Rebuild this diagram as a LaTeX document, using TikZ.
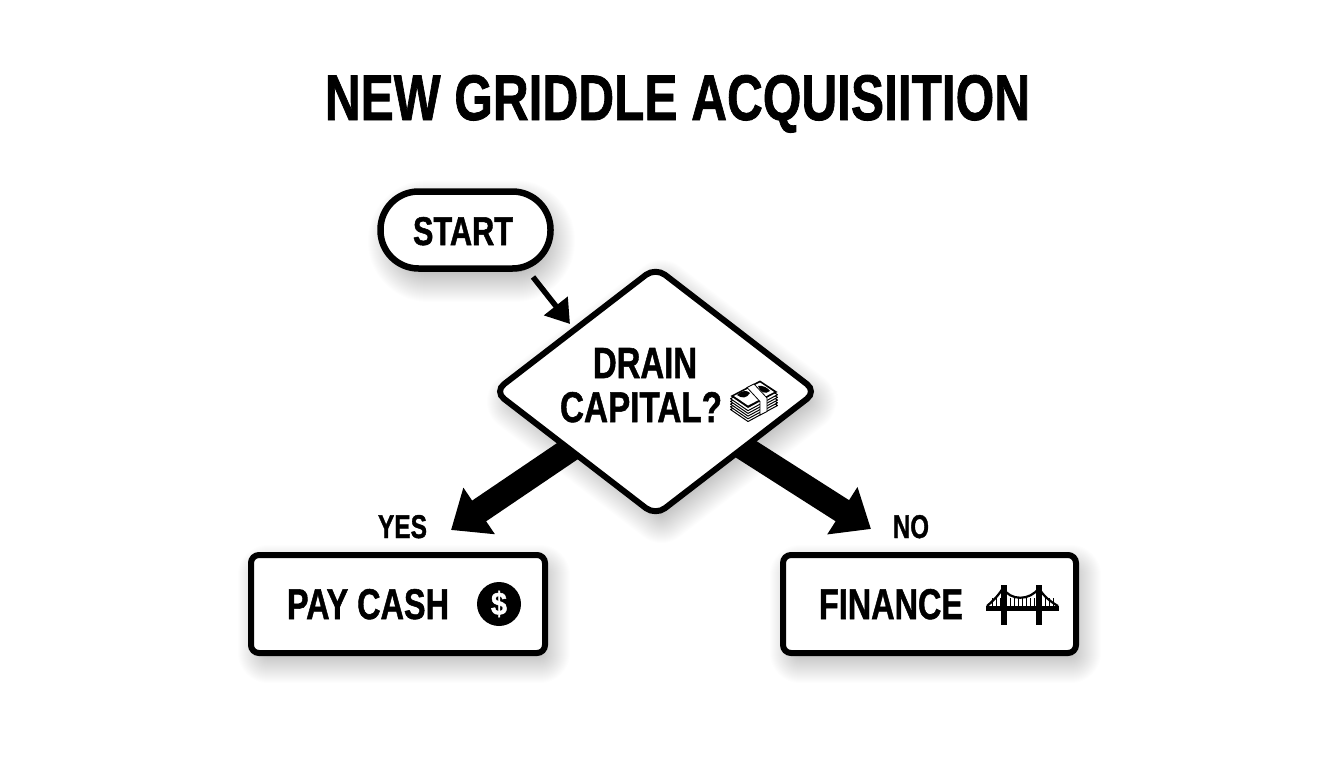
\documentclass[tikz,border=0pt]{standalone}
\usepackage{fontspec}
\usepackage{graphicx}
\setmainfont{Liberation Sans}[BoldFont={Liberation Sans Bold},BoldFeatures={FakeBold=1.3}]
\usetikzlibrary{arrows.meta,shapes.geometric}
\pgfdeclarelayer{shad}
\pgfdeclarelayer{conn}
\pgfsetlayers{shad,conn,main}
\newcommand{\fitted}[3]{\resizebox{#1pt}{#2pt}{\bfseries #3}}
\newcommand{\softshadow}[2]{%
  \begin{pgfonlayer}{shad}
  \foreach \w in {2,4,...,60}{
    \path[fill=black,draw=black,opacity=0.0095,line width=\w pt,line join=round,shift={#1}] #2;
  }
  \end{pgfonlayer}}
\tikzset{
  x=1pt,y=-1pt,
  textlabel/.style={inner sep=0pt,outer sep=0pt,anchor=base,black},
  boxnode/.style={draw=black,fill=white,line width=6pt,rounded corners=8pt,minimum width=294pt,minimum height=98pt,inner sep=0pt,outer sep=0pt},
  startnode/.style={draw=black,fill=white,line width=6.5pt,rounded corners=38pt,minimum width=170pt,minimum height=77pt,inner sep=0pt,outer sep=0pt},
  decisionnode/.style={diamond,draw=black,fill=white,line width=6pt,rounded corners=12pt,minimum width=322pt,minimum height=248pt,shape aspect=1.3,inner sep=0pt,outer sep=0pt},
  thinarrow/.style={draw=black,line width=5.5pt,-{Triangle[length=23pt,width=29pt]}},
  bigarrow/.style={draw=black,line width=25pt,-{Triangle[length=34pt,width=54pt]}},
  billlayer/.style={fill=white,draw=black,line width=1pt,line join=round},
}
\begin{document}
\begin{tikzpicture}
\useasboundingbox (0,0) rectangle (1344,768);
% shadows
\softshadow{(6,10)}{[rounded corners=30pt] (392,200) rectangle (539,262)}
\softshadow{(6,10)}{(655.5,280) -- (800,391.5) -- (655.5,503) -- (511,391.5) -- cycle}
\softshadow{(6,10)}{(262,565) rectangle (534,643)}
\softshadow{(6,10)}{(794,565) rectangle (1065,643)}
% title
\node[textlabel] (title) at (677.5,120) {\fitted{705}{45}{NEW GRIDDLE ACQUISIITION}};
% nodes
\node[startnode] (start) at (465.5,230) {};
\node[textlabel] (startlabel) at (463,245) {\fitted{100}{28}{START}};
\node[decisionnode] (decision) at (655.5,391.5) {};
\node[textlabel] (drain) at (645,378) {\fitted{104}{30}{DRAIN}};
\node[textlabel] (capital) at (641,422) {\fitted{162}{30}{CAPITAL?}};
\node[boxnode] (pay) at (398,604) {};
\node[boxnode,minimum width=293pt] (finance) at (929.5,604) {};
\node[textlabel] (paylabel) at (368,619) {\fitted{162}{30}{PAY CASH}};
\node[textlabel] (financelabel) at (891,619) {\fitted{144}{30}{FINANCE}};
\node[circle,fill=black,minimum size=44pt,inner sep=0pt,text=white] (dollar) at (499,604) {\resizebox{16pt}{24pt}{\bfseries\$}};
\node[textlabel] (yes) at (402.5,538) {\fitted{49}{23}{YES}};
\node[textlabel] (no) at (911,538) {\fitted{36}{23}{NO}};
% connectors
\coordinate (startout) at (533,277);
\coordinate (decisionin) at (570,324);
\coordinate (paytip) at (451,530);
\coordinate (financetip) at (871,529);
\begin{pgfonlayer}{conn}
\draw[bigarrow] (decision.center) -- (paytip);
\draw[bigarrow] (decision.center) -- (financetip);
\end{pgfonlayer}
\draw[thinarrow] (startout) -- (decisionin);
% money icon
\foreach \i in {5,4,3,2,1}{
  \path[billlayer,shift={(0,\i*2.7)}] (730.5,396) -- (760,380.5) -- (777.5,392) -- (748,408) -- cycle;
}
\path[fill=black] (730.5,396) -- (760,380.5) -- (777.5,392) -- (748,408) -- cycle;
\path[fill=white] (734,396) -- (760,382.5) -- (774,392) -- (748,405.5) -- cycle;
\path[fill=black] (737,395) .. controls (742,390) and (747,390) .. (750,393) .. controls (747,398) and (742,399) .. cycle;
\path[fill=black] (758,386) .. controls (763,385) and (768,388) .. (770,391) .. controls (765,395) and (760,392) .. cycle;
\path[fill=white,draw=black,line width=.8pt] (747,387.5) -- (754,384) -- (767,398) -- (767,411.5) -- (760,415) -- (760,401.5) -- cycle;
% bridge icon
\path[fill=black] (986,606) rectangle (1059,611);
\path[fill=black] (1001,585) rectangle (1007,625);
\path[fill=black] (1036,585) rectangle (1042,625);
\draw[line width=2.2pt] (987,606) .. controls (993,601) and (998,596) .. (1003,588) .. controls (1010,601) and (1030,601) .. (1039,588) .. controls (1043,596) and (1051,602) .. (1058,606);
\foreach \hx in {992,996,1000,1010,1014,1018,1022,1026,1030,1034,1045,1049,1053}{
  \draw[line width=.9pt] (\hx,598) -- (\hx,606);
}
\end{tikzpicture}
\end{document}
